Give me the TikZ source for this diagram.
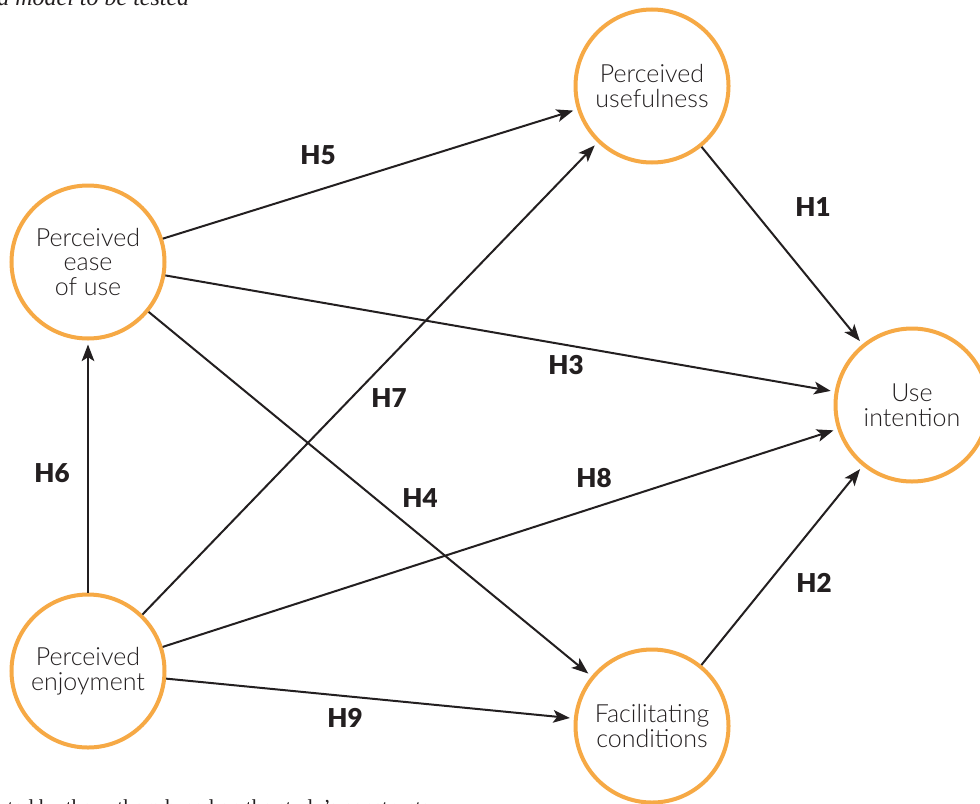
\documentclass[tikz,border=0pt]{standalone}
\usepackage{fontspec}
\setmainfont{Lato}
\newfontfamily\circfont{Lato Light}
\newfontfamily\hypfont{Lato Black}
\newfontfamily\capfont{Liberation Serif}
\usetikzlibrary{arrows.meta}
\definecolor{ring}{HTML}{F6A945}
\definecolor{ink}{HTML}{231F20}
\begin{document}
\begin{tikzpicture}[x=0.75pt,y=-0.75pt,
  construct/.style={circle, draw=ring, line width=3pt, minimum size=114.75pt, inner sep=0pt,
    align=center, font=\circfont\fontsize{18.75pt}{18.6pt}\selectfont, text=ink, fill=white},
  arr/.style={draw=ink, line width=1.5pt, -{Stealth[length=12.5pt,width=9.5pt,inset=3pt]}, shorten >=3pt},
  hyp/.style={font=\hypfont\fontsize{19.5pt}{24pt}\selectfont, text=ink, inner sep=0pt}]
\useasboundingbox (0,0) rectangle (980,803);
\fill[white] (0,0) rectangle (980,803);

\node[construct] (ease) at (88,262) {Perceived\\ease\\of use};
\node[construct] (useful) at (652,86) {Perceived\\usefulness};
\node[construct] (intent) at (912,405) {Use\\intention};
\node[construct] (enjoy) at (88,671) {Perceived\\enjoyment};
\node[construct] (facil) at (652,726) {Facilitating\\conditions};

\draw[arr] (ease) -- (useful);
\draw[arr] (useful) -- (intent);
\draw[arr] (ease) -- (intent);
\draw[arr] (ease) -- (facil);
\draw[arr] (enjoy) -- (useful);
\draw[arr] (enjoy) -- (ease);
\draw[arr] (enjoy) -- (intent);
\draw[arr] (enjoy) -- (facil);
\draw[arr] (facil) -- (intent);

\node[hyp] (h5) at (318,155) {H5};
\node[hyp] (h1) at (813,207) {H1};
\node[hyp] (h3) at (566,365) {H3};
\node[hyp] (h7) at (389,398) {H7};
\node[hyp] (h6) at (52,473) {H6};
\node[hyp] (h4) at (420,498) {H4};
\node[hyp] (h8) at (594,478) {H8};
\node[hyp] (h2) at (814,583) {H2};
\node[hyp] (h9) at (345,718) {H9};

\begin{scope}
\clip (0,0) rectangle (980,803);
\node[anchor=base west, inner sep=0pt, text=ink, font=\capfont\itshape\fontsize{18pt}{20pt}\selectfont] (title) at (-3,5) {a model to be tested};
\node[anchor=base west, inner sep=0pt, text=ink, font=\capfont\fontsize{16pt}{18pt}\selectfont] (source) at (-2,814) {ated by the authors based on the study’s constructs};
\end{scope}
\end{tikzpicture}
\end{document}
